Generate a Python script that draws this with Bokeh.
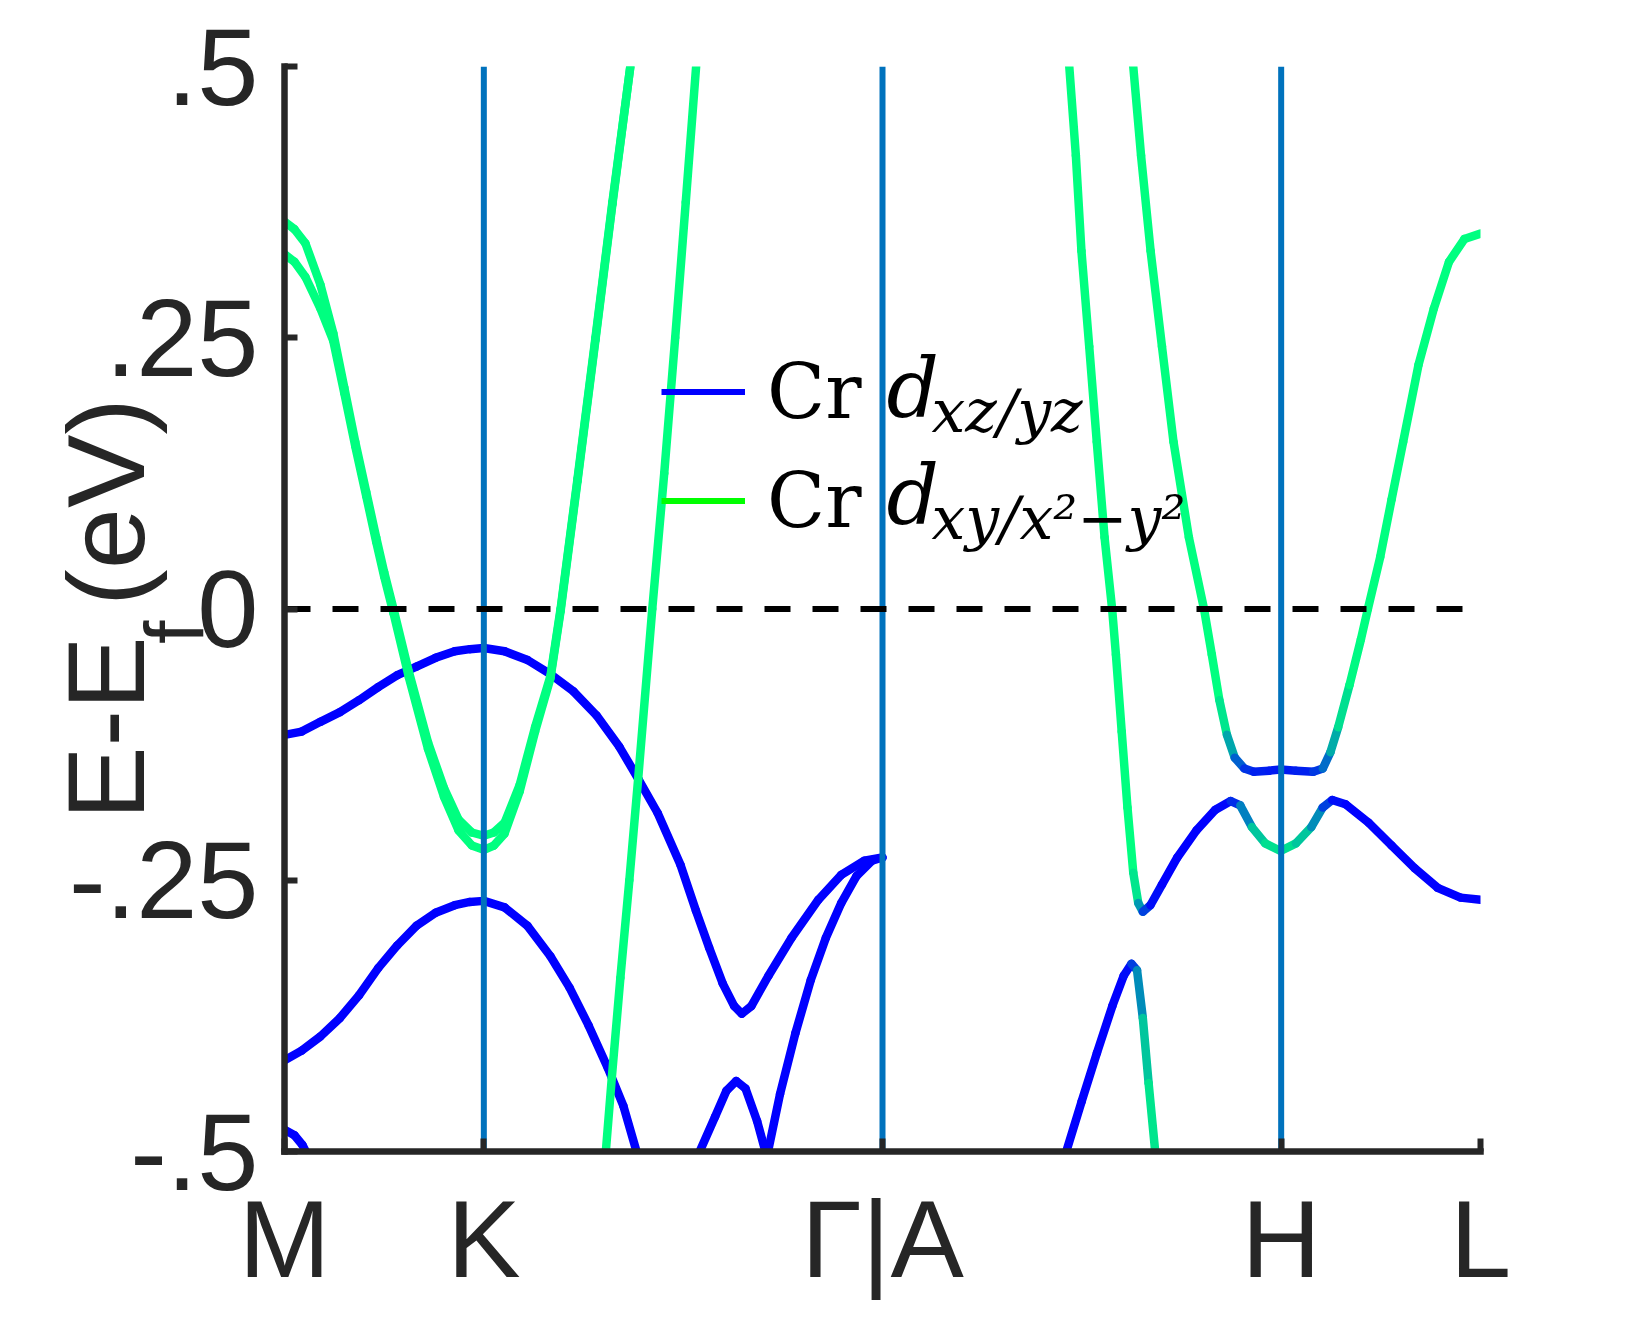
import math
from bokeh.plotting import figure
from bokeh.models import Range1d, FixedTicker, Label, Legend, LegendItem, LinearAxis
from bokeh.embed import file_html
from bokeh.resources import INLINE

# ---------------- data ----------------
kpt_pos = [0, 1, 3, 5, 6]
kpt_labels = ["M", "K", "Γ|A", "H", "L"]
ytick_vals = [-0.5, -0.25, 0, 0.25, 0.5]
ytick_labels = ["-.5", "-.25", "0", ".25", ".5"]
ylabel_main = "E-E\u00a0(eV)"
ylabel_sub = "f\u00a0\u00a0"

# weights: 0 = Cr d_xz/yz (blue), 1 = Cr d_xy/x2-y2 (green)
ga_x = [0, 0.05, 0.105, 0.18, 0.245, 0.30, 0.355, 0.41, 0.46, 0.50, 0.547, 0.624, 0.72, 0.80, 0.873,
        0.94, 1.0, 1.05, 1.104, 1.18, 1.257, 1.334, 1.385, 1.47, 1.56, 1.645, 1.735]
ga_y = [0.357, 0.350, 0.337, 0.299, 0.254, 0.204, 0.154, 0.108, 0.066, 0.034, 0.0, -0.058, -0.123,
        -0.165, -0.194, -0.206, -0.209, -0.206, -0.197, -0.162, -0.109, -0.062, 0.0, 0.12, 0.25, 0.375, 0.5]
gb_y = [0.327, 0.320, 0.306, 0.277, 0.247, 0.199, 0.150, 0.104, 0.062, 0.030, -0.004, -0.063, -0.129,
        -0.173, -0.204, -0.218, -0.222, -0.218, -0.207, -0.168, -0.113, -0.064, -0.002, 0.118, 0.248, 0.373, 0.5]

gc_x = [1.612, 1.642, 1.685, 1.73, 1.774, 1.845, 1.905, 1.96, 2.013, 2.065]
gc_y = [-0.5, -0.432, -0.34, -0.25, -0.157, 0.0, 0.125, 0.25, 0.375, 0.5]

b1_x = [0, 0.086, 0.18, 0.278, 0.374, 0.47, 0.566, 0.662, 0.758, 0.854, 0.93, 1.0, 1.104, 1.219, 1.334,
        1.45, 1.565, 1.68, 1.776, 1.872, 1.987, 2.064, 2.13, 2.198, 2.256, 2.294, 2.342, 2.428, 2.544,
        2.678, 2.793, 2.909, 3.0]
b1_y = [-0.116, -0.113, -0.104, -0.095, -0.084, -0.072, -0.061, -0.053, -0.045, -0.039, -0.037, -0.036,
        -0.039, -0.047, -0.060, -0.076, -0.098, -0.127, -0.157, -0.188, -0.236, -0.278, -0.312, -0.345,
        -0.366, -0.373, -0.366, -0.338, -0.303, -0.268, -0.245, -0.232, -0.229]

b2_x = [0, 0.086, 0.18, 0.278, 0.374, 0.47, 0.566, 0.662, 0.758, 0.854, 0.93, 1.0, 1.104, 1.219, 1.334,
        1.43, 1.526, 1.622, 1.70, 1.766]
b2_y = [-0.416, -0.407, -0.394, -0.377, -0.356, -0.331, -0.310, -0.292, -0.280, -0.273, -0.270, -0.269,
        -0.275, -0.292, -0.320, -0.349, -0.384, -0.423, -0.458, -0.5]

b3_x = [0, 0.05, 0.09, 0.115]
b3_y = [-0.480, -0.485, -0.494, -0.503]

b4_x = [2.083, 2.16, 2.217, 2.266, 2.313, 2.371, 2.42]
b4_y = [-0.5, -0.468, -0.444, -0.435, -0.442, -0.472, -0.505]

b5_x = [2.42, 2.486, 2.563, 2.64, 2.716, 2.793, 2.87, 2.947, 3.0]
b5_y = [-0.505, -0.447, -0.391, -0.342, -0.303, -0.271, -0.246, -0.232, -0.229]

gd_x = [3.937, 3.97, 3.998, 4.037, 4.075, 4.114, 4.152, 4.171, 4.20, 4.229, 4.258, 4.283, 4.306, 4.344,
        4.402, 4.479, 4.575, 4.67, 4.747, 4.795, 4.853, 4.92, 4.997, 5.074, 5.151, 5.208, 5.256, 5.323,
        5.439, 5.554, 5.67, 5.785, 5.90, 6.0]
gd_y = [0.5, 0.418, 0.330, 0.242, 0.154, 0.066, 0.0, -0.042, -0.113, -0.183, -0.243, -0.271, -0.279,
        -0.273, -0.254, -0.229, -0.204, -0.185, -0.177, -0.181, -0.201, -0.216, -0.223, -0.216, -0.201,
        -0.183, -0.176, -0.180, -0.197, -0.218, -0.239, -0.257, -0.266, -0.268]
gd_w = [1, 1, 1, 1, 1, 1, 1, 1, 1, 1, 1, 0.8, 0.4, 0.1, 0, 0, 0, 0, 0.05, 0.3, 0.7, 0.85, 0.9, 0.85,
        0.7, 0.4, 0.1, 0, 0, 0, 0, 0, 0, 0]

ge_x = [4.258, 4.297, 4.345, 4.402, 4.46, 4.537, 4.613, 4.652, 4.69, 4.728, 4.767, 4.815, 4.863, 4.94,
        4.997, 5.074, 5.161, 5.209, 5.247, 5.286, 5.343, 5.40, 5.435, 5.497, 5.554, 5.612, 5.689, 5.766,
        5.842, 5.919, 6.0]
ge_y = [0.5, 0.418, 0.330, 0.242, 0.154, 0.066, 0.0, -0.042, -0.084, -0.116, -0.137, -0.147, -0.150,
        -0.149, -0.148, -0.149, -0.150, -0.147, -0.132, -0.109, -0.070, -0.028, 0.0, 0.048, 0.101, 0.154,
        0.225, 0.277, 0.320, 0.341, 0.346]
ge_w = [1, 1, 1, 1, 1, 1, 1, 1, 1, 0.8, 0.5, 0.25, 0.15, 0.1, 0.1, 0.1, 0.15, 0.3, 0.55, 0.8, 0.95,
        1, 1, 1, 1, 1, 1, 1, 1, 1, 1]

b6_x = [3.922, 3.999, 4.076, 4.153, 4.21, 4.249, 4.277, 4.306, 4.335, 4.368]
b6_y = [-0.5, -0.454, -0.409, -0.366, -0.338, -0.327, -0.333, -0.377, -0.437, -0.5]
b6_w = [0, 0, 0, 0, 0, 0.1, 0.4, 0.7, 0.85, 0.95]

legend_names = ["Cr", "Cr"]
legend_subs = ["xz/yz", "xy/x²−y²"]

# ---------------- styling ----------------
BLUE = (0, 0, 255)
GREEN = (0, 255, 128)
TXT = "#262626"


def mix(w):
    r = BLUE[0] + (GREEN[0] - BLUE[0]) * w
    g = BLUE[1] + (GREEN[1] - BLUE[1]) * w
    b = BLUE[2] + (GREEN[2] - BLUE[2]) * w
    return "#%02x%02x%02x" % (int(round(r)), int(round(g)), int(round(b)))


p = figure(frame_width=1196, frame_height=1085,
           min_border_left=284, min_border_right=144, min_border_top=66, min_border_bottom=166,
           x_range=Range1d(kpt_pos[0], kpt_pos[-1]), y_range=Range1d(ytick_vals[0], ytick_vals[-1]),
           output_backend="svg", toolbar_location=None, tools="")
p.outline_line_color = None
p.xgrid.visible = False
p.ygrid.visible = False
p.background_fill_color = "white"
p.border_fill_color = "white"


def draw_band(xs, ys, ws):
    if not isinstance(ws, (list, tuple)):
        ws = [ws] * len(xs)
    x0, y0, x1, y1, cols = [], [], [], [], []
    for i in range(len(xs) - 1):
        x0.append(xs[i]); y0.append(ys[i]); x1.append(xs[i + 1]); y1.append(ys[i + 1])
        cols.append(mix(0.5 * (ws[i] + ws[i + 1])))
    p.segment(x0=x0, y0=y0, x1=x1, y1=y1, line_color=cols, line_width=8.5, line_cap="round")


draw_band(b1_x, b1_y, 0)
draw_band(b2_x, b2_y, 0)
draw_band(b3_x, b3_y, 0)
draw_band(b4_x, b4_y, 0)
draw_band(b5_x, b5_y, 0)
draw_band(b6_x, b6_y, b6_w)
draw_band(ga_x, gb_y, 1)
draw_band(ga_x, ga_y, 1)
draw_band(gc_x, gc_y, 1)
draw_band(gd_x, gd_y, gd_w)
draw_band(ge_x, ge_y, ge_w)

# high-symmetry vertical lines
inner = kpt_pos[1:-1]
p.segment(x0=inner, y0=[ytick_vals[0]] * len(inner), x1=inner, y1=[ytick_vals[-1]] * len(inner),
          line_color="#0072BD", line_width=6)
# Fermi level
p.line(x=[kpt_pos[0], kpt_pos[-1]], y=[0, 0], line_color="black", line_width=6, line_dash="26 22")

# axes
for ax in (p.xaxis[0], p.yaxis[0]):
    ax.axis_line_color = TXT
    ax.axis_line_width = 6.5
    ax.axis_line_cap = "square"
    ax.major_tick_line_color = TXT
    ax.major_tick_line_width = 6
    ax.major_tick_in = 13
    ax.major_tick_out = 0
    ax.minor_tick_line_color = None
    ax.major_label_text_font = "Liberation Sans"
    ax.major_label_text_font_size = "110px"
    ax.major_label_text_color = TXT

p.xaxis.ticker = FixedTicker(ticks=kpt_pos)
p.xaxis.major_label_overrides = {k: l for k, l in zip(kpt_pos, kpt_labels)}
p.xaxis.major_label_standoff = 25
p.yaxis.ticker = FixedTicker(ticks=ytick_vals)
p.yaxis.major_label_overrides = {k: l for k, l in zip(ytick_vals, ytick_labels)}
p.yaxis.major_label_standoff = 26

# y title: subscript part on the main axis, main part on an outer label-only axis
yax = p.yaxis[0]
yax.axis_label = ylabel_sub
yax.axis_label_text_font = "Liberation Sans"
yax.axis_label_text_font_size = "84px"
yax.axis_label_text_font_style = "normal"
yax.axis_label_text_color = TXT
yax.axis_label_standoff = -156

outer = LinearAxis(ticker=FixedTicker(ticks=[]), axis_line_color=None, major_tick_line_color=None,
                   minor_tick_line_color=None, major_tick_out=0, major_tick_in=0, minor_tick_out=0,
                   major_label_standoff=0, axis_label=ylabel_main, axis_label_standoff=-42,
                   axis_label_text_font="Liberation Sans", axis_label_text_font_size="110px",
                   axis_label_text_font_style="normal", axis_label_text_color=TXT)
p.add_layout(outer, "left")

# legend
nan = float("nan")
r_blue = p.line(x=[nan], y=[nan], line_color="#0000ff", line_width=6)
r_green = p.line(x=[nan], y=[nan], line_color="#00ff00", line_width=6)
legend = Legend(items=[LegendItem(label=legend_names[0], renderers=[r_blue]),
                       LegendItem(label=legend_names[1], renderers=[r_green])],
                location=(377, 596), padding=0, spacing=0, margin=0,
                glyph_width=84, glyph_height=109, label_height=109, label_standoff=22,
                label_text_font="DejaVu Serif", label_text_font_size="76px", label_text_color="black",
                background_fill_alpha=0, border_line_alpha=0)
p.add_layout(legend)

sub_common = dict(x_units="screen", y_units="screen", text_color="black", text_font="DejaVu Serif",
                  text_font_style="italic", text_baseline="alphabetic", text_align="left")
for i, sub in enumerate(legend_subs):
    base = 739 - 107 * i
    p.add_layout(Label(x=602, y=base + 24, text="d", text_font_size="82px", **sub_common))
    p.add_layout(Label(x=647, y=base + 2, text=sub, text_font_size="60px", **sub_common))

open("out.html", "w").write(file_html(p, INLINE))
